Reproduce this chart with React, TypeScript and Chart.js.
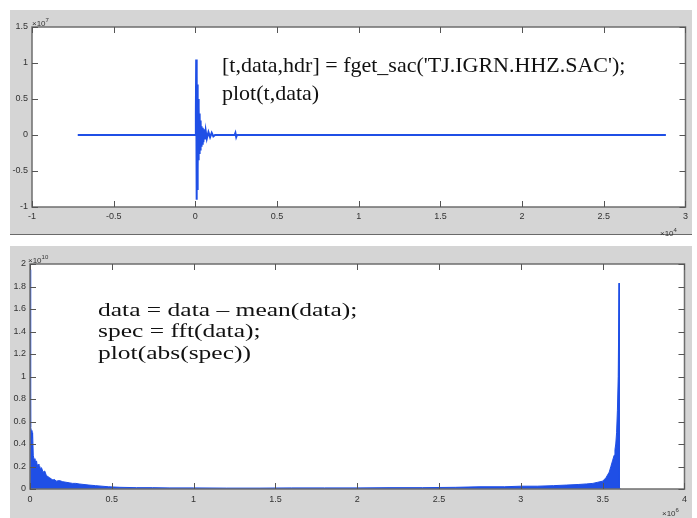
import React, { useEffect, useRef } from "react";
import { Chart, registerables } from "chart.js";
Chart.register(...registerables);

// ---- Top panel: seismogram, t in units of 1e4 s, amplitude in units of 1e7 ----
const waveT = [-0.72, 0.0, 0.003, 0.005, 0.007, 0.009, 0.011, 0.013, 0.015, 0.017, 0.019, 0.021, 0.023, 0.026, 0.029, 0.032, 0.035, 0.038, 0.041, 0.045, 0.049, 0.053, 0.058, 0.063, 0.07, 0.08, 0.09, 0.1, 0.11, 0.12, 0.24, 0.245, 0.25, 0.255, 2.88];
const waveV = [0, 0, 0.3, 1.05, -0.9, 0.85, -0.75, 0.7, -0.5, 0.5, -0.35, 0.4, -0.25, 0.3, -0.2, 0.2, -0.15, 0.12, -0.12, 0.1, -0.1, 0.08, -0.06, 0.06, -0.05, 0.04, -0.03, 0.03, -0.02, 0, 0, 0.03, -0.03, 0, 0];
const waveXTicks = [-1, -0.5, 0, 0.5, 1, 1.5, 2, 2.5, 3];
const waveXLabels = ["-1", "-0.5", "0", "0.5", "1", "1.5", "2", "2.5", "3"];
const waveYTicks = [-1, -0.5, 0, 0.5, 1, 1.5];
const waveYLabels = ["-1", "-0.5", "0", "0.5", "1", "1.5"];

// ---- Bottom panel: |FFT|, index in units of 1e6, magnitude in units of 1e10 ----
const specX = [0, 0.004, 0.008, 0.012, 0.016, 0.02, 0.025, 0.03, 0.035, 0.04, 0.045, 0.05, 0.055, 0.06, 0.065, 0.07, 0.08, 0.09, 0.1, 0.11, 0.12, 0.13, 0.14, 0.15, 0.16, 0.18, 0.2, 0.22, 0.24, 0.26, 0.28, 0.3, 0.33, 0.36, 0.4, 0.44, 0.48, 0.55, 0.65, 0.75, 0.85, 1.0, 1.2, 1.4, 1.6, 1.8, 2.0, 2.2, 2.4, 2.6, 2.75, 2.9, 3.0, 3.1, 3.2, 3.28, 3.35, 3.4, 3.44, 3.47, 3.5, 3.52, 3.54, 3.55, 3.56, 3.57, 3.575, 3.58, 3.585, 3.59, 3.595, 3.6, 3.602, 3.61];
const specY = [1.95, 0.55, 0.52, 0.45, 0.5, 0.3, 0.26, 0.27, 0.23, 0.25, 0.2, 0.22, 0.18, 0.2, 0.17, 0.19, 0.15, 0.16, 0.12, 0.11, 0.1, 0.09, 0.08, 0.085, 0.07, 0.075, 0.065, 0.06, 0.055, 0.05, 0.05, 0.045, 0.04, 0.035, 0.03, 0.025, 0.02, 0.015, 0.012, 0.012, 0.01, 0.01, 0.008, 0.008, 0.01, 0.01, 0.01, 0.012, 0.012, 0.015, 0.02, 0.02, 0.025, 0.025, 0.03, 0.035, 0.04, 0.045, 0.05, 0.06, 0.07, 0.1, 0.15, 0.2, 0.25, 0.3, 0.35, 0.4, 0.5, 0.7, 1.0, 1.83, 0, 0];
const specXTicks = [0, 0.5, 1, 1.5, 2, 2.5, 3, 3.5, 4];
const specXLabels = ["0", "0.5", "1", "1.5", "2", "2.5", "3", "3.5", "4"];
const specYTicks = [0, 0.2, 0.4, 0.6, 0.8, 1, 1.2, 1.4, 1.6, 1.8, 2];
const specYLabels = ["0", "0.2", "0.4", "0.6", "0.8", "1", "1.2", "1.4", "1.6", "1.8", "2"];

const BLUE = "#1f4fe6";
const PANEL = "#d5d5d5";

const framePlugin = {
  id: "matlabFrame",
  beforeDraw(chart: any) {
    const { ctx, chartArea: a } = chart;
    ctx.save();
    ctx.fillStyle = "#ffffff";
    ctx.fillRect(a.left, a.top, a.right - a.left, a.bottom - a.top);
    ctx.restore();
  },
  afterDraw(chart: any) {
    const { ctx, chartArea: a, scales } = chart;
    const L = 6;
    ctx.save();
    ctx.strokeStyle = "#6e6e6e";
    ctx.lineWidth = 1.5;
    ctx.strokeRect(a.left, a.top, a.right - a.left, a.bottom - a.top);
    ctx.lineWidth = 1;
    ctx.strokeStyle = "#555555";
    ctx.beginPath();
    for (const t of scales.x.ticks) {
      const px = Math.round(scales.x.getPixelForValue(t.value)) + 0.5;
      ctx.moveTo(px, a.bottom);
      ctx.lineTo(px, a.bottom - L);
      ctx.moveTo(px, a.top);
      ctx.lineTo(px, a.top + L);
    }
    for (const t of scales.y.ticks) {
      const py = Math.round(scales.y.getPixelForValue(t.value)) + 0.5;
      ctx.moveTo(a.left, py);
      ctx.lineTo(a.left + L, py);
      ctx.moveTo(a.right, py);
      ctx.lineTo(a.right - L, py);
    }
    ctx.stroke();
    ctx.restore();
  },
};

function buildChart(
  canvas: HTMLCanvasElement,
  xs: number[],
  ys: number[],
  xTicks: number[],
  xLabels: string[],
  yTicks: number[],
  yLabels: string[],
  yAxisWidth: number,
  xAxisHeight: number,
  padTop: number,
  padRight: number,
  lineWidth: number,
  xPad: number
) {
  const points = xs.map((x, i) => ({ x, y: ys[i] }));
  const tickFont = { family: "'Liberation Sans', Arial, sans-serif", size: 9 };
  return new Chart(canvas, {
    type: "line",
    data: {
      datasets: [
        {
          data: points,
          borderColor: BLUE,
          backgroundColor: BLUE,
          borderWidth: lineWidth,
          fill: "origin",
          pointRadius: 0,
          tension: 0,
        },
      ],
    },
    options: {
      responsive: false,
      animation: false,
      events: [],
      layout: { padding: { top: padTop, right: padRight, left: 0, bottom: 0 } },
      plugins: { legend: { display: false }, tooltip: { enabled: false } },
      scales: {
        x: {
          type: "linear",
          min: xTicks[0],
          max: xTicks[xTicks.length - 1],
          grid: { display: false, drawTicks: false, tickLength: 0 },
          border: { display: false },
          afterBuildTicks: (s: any) => {
            s.ticks = xTicks.map((v) => ({ value: v }));
          },
          afterFit: (s: any) => {
            s.height = xAxisHeight;
          },
          ticks: {
            autoSkip: false,
            maxRotation: 0,
            padding: xPad,
            color: "#333333",
            font: tickFont,
            callback: (v: any) => {
              const i = xTicks.indexOf(Number(v));
              return i >= 0 ? xLabels[i] : "";
            },
          },
        },
        y: {
          type: "linear",
          min: yTicks[0],
          max: yTicks[yTicks.length - 1],
          grid: { display: false, drawTicks: false, tickLength: 0 },
          border: { display: false },
          afterBuildTicks: (s: any) => {
            s.ticks = yTicks.map((v) => ({ value: v }));
          },
          afterFit: (s: any) => {
            s.width = yAxisWidth;
          },
          ticks: {
            autoSkip: false,
            padding: 4,
            color: "#333333",
            font: tickFont,
            callback: (v: any) => {
              const i = yTicks.findIndex((t) => Math.abs(t - Number(v)) < 1e-9);
              return i >= 0 ? yLabels[i] : "";
            },
          },
        },
      },
    },
    plugins: [framePlugin],
  });
}

const expStyle: React.CSSProperties = {
  position: "absolute",
  fontFamily: "'Liberation Sans', Arial, sans-serif",
  fontSize: 8,
  color: "#333",
  whiteSpace: "nowrap",
  lineHeight: "10px",
};
const supStyle: React.CSSProperties = { fontSize: 6, verticalAlign: "4px" };

function Exp({ left, top, power }: { left: number; top: number; power: string }) {
  return (
    <div style={{ ...expStyle, left, top }}>
      ×10<span style={supStyle}>{power}</span>
    </div>
  );
}

export default function App() {
  const topRef = useRef<HTMLCanvasElement | null>(null);
  const botRef = useRef<HTMLCanvasElement | null>(null);

  useEffect(() => {
    const c1 = buildChart(topRef.current!, waveT, waveV, waveXTicks, waveXLabels, waveYTicks, waveYLabels, 22, 27, 17, 6, 2, 4);
    const c2 = buildChart(botRef.current!, specX, specY, specXTicks, specXLabels, specYTicks, specYLabels, 20, 29, 18, 6, 1, 5);
    return () => {
      c1.destroy();
      c2.destroy();
    };
  }, []);

  const serif = "'Liberation Serif', 'Times New Roman', serif";

  return (
    <div style={{ position: "fixed", left: 0, top: 0, width: 697, height: 518, background: "#ffffff", overflow: "hidden" }}>
      <div style={{ position: "absolute", left: 10, top: 10, width: 682, height: 224, background: PANEL, borderBottom: "1px solid #6a6a6a" }}>
        <canvas ref={topRef} width={682} height={224} style={{ display: "block" }} />
      </div>
      <div style={{ position: "absolute", left: 10, top: 246, width: 682, height: 272, background: PANEL }}>
        <canvas ref={botRef} width={682} height={272} style={{ display: "block" }} />
      </div>

      <Exp left={32} top={15} power="7" />
      <Exp left={660} top={225} power="4" />
      <Exp left={28} top={252} power="10" />
      <Exp left={662} top={505} power="6" />

      <div
        style={{
          position: "absolute",
          left: 222,
          top: 51,
          fontFamily: serif,
          fontSize: 22,
          lineHeight: "28px",
          color: "#111",
          whiteSpace: "nowrap",
        }}
      >
        <div>[t,data,hdr] = fget_sac('TJ.IGRN.HHZ.SAC');</div>
        <div>plot(t,data)</div>
      </div>

      <div
        style={{
          position: "absolute",
          left: 98,
          top: 299,
          fontFamily: serif,
          fontSize: 25.5,
          lineHeight: "29px",
          color: "#111",
          whiteSpace: "nowrap",
          transform: "scale(1, 0.74)",
          transformOrigin: "0 0",
        }}
      >
        <div>data = data – mean(data);</div>
        <div>spec = fft(data);</div>
        <div>plot(abs(spec))</div>
      </div>
    </div>
  );
}
